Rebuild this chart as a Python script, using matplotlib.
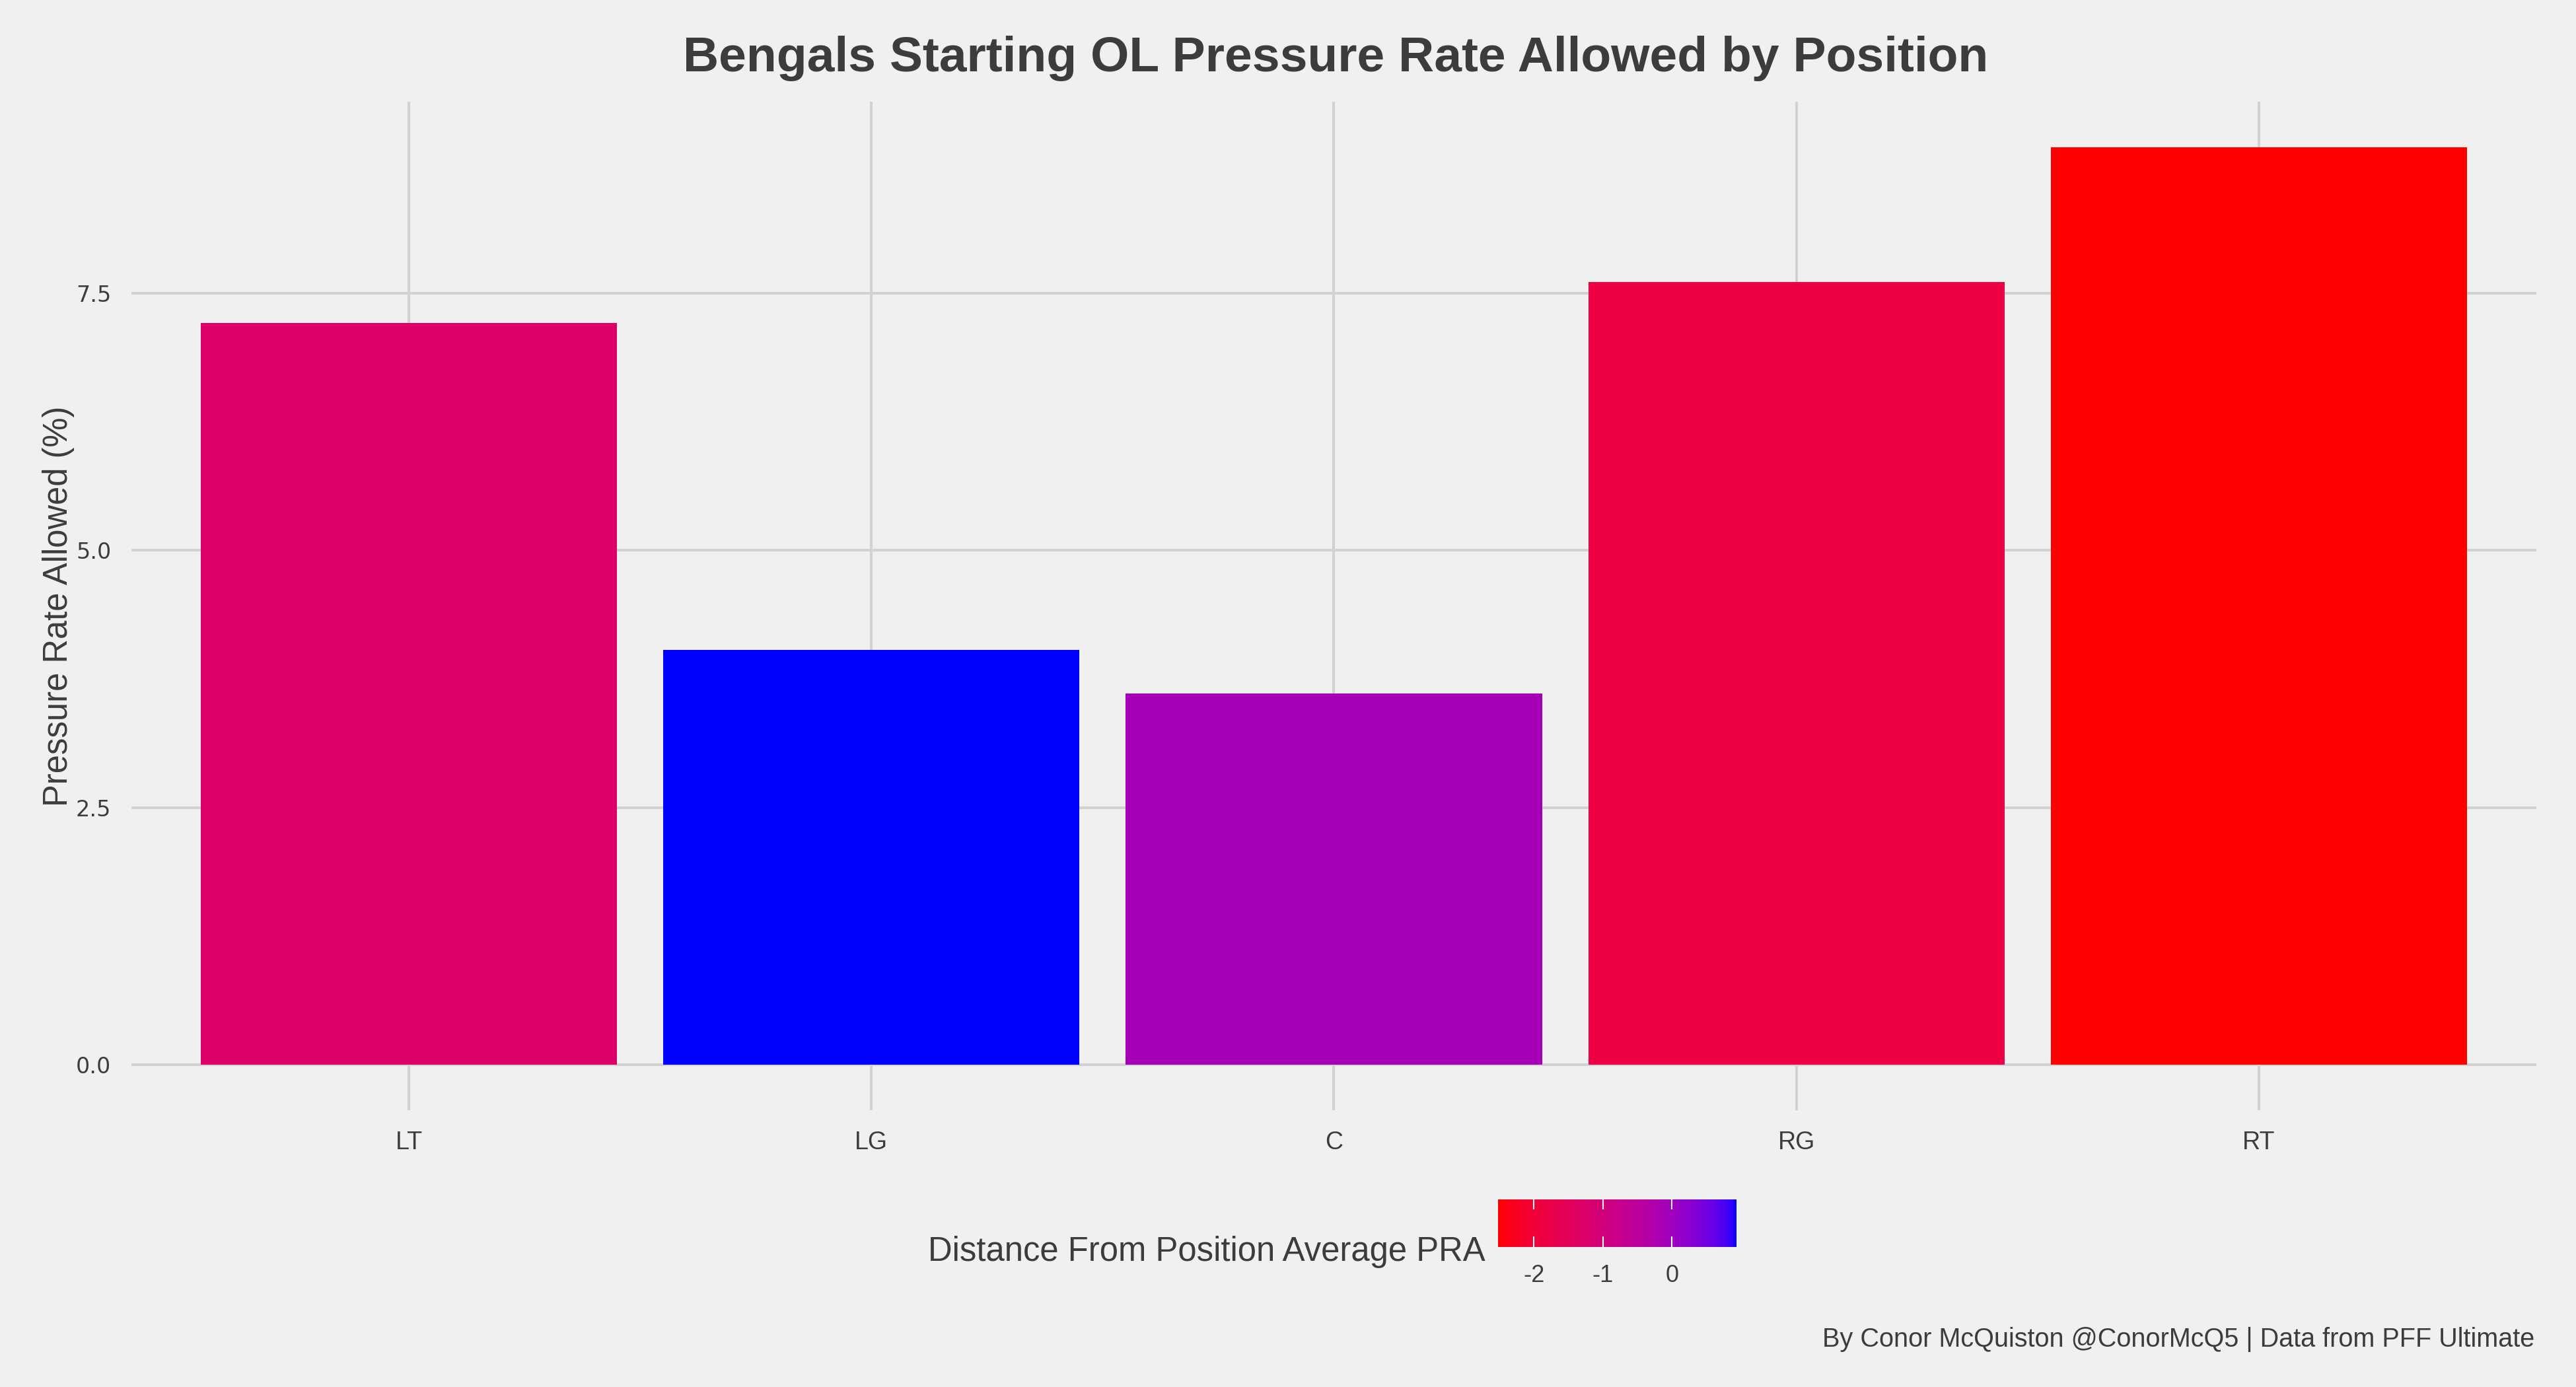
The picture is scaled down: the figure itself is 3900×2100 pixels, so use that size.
import numpy as np
import matplotlib
matplotlib.use("Agg")
import matplotlib.pyplot as plt
from matplotlib.colors import ListedColormap, Normalize
from matplotlib.cm import ScalarMappable

# data
positions = ["LT", "LG", "C", "RG", "RT"]
pressure_rate = [7.21, 4.03, 3.61, 7.61, 8.92]
distance_from_avg = [-1.28, 0.93, -0.10, -1.83, -2.52]
y_ticks = [0.0, 2.5, 5.0, 7.5]
cbar_ticks = [-2, -1, 0]

BG = "#F0F0F0"
GRID = "#D2D2D2"
TXT = "#3C3C3C"


# ggplot's red -> blue gradient is interpolated in Lab space
def srgb_to_lab(rgb):
    c = np.array(rgb, dtype=float)
    lin = np.where(c <= 0.04045, c / 12.92, ((c + 0.055) / 1.055) ** 2.4)
    m = np.array([[0.4124, 0.3576, 0.1805],
                  [0.2126, 0.7152, 0.0722],
                  [0.0193, 0.1192, 0.9505]])
    xyz = m @ lin / np.array([0.95047, 1.0, 1.08883])
    f = np.where(xyz > 0.008856, np.cbrt(xyz), 7.787 * xyz + 16 / 116)
    return np.array([116 * f[1] - 16, 500 * (f[0] - f[1]), 200 * (f[1] - f[2])])


def lab_to_srgb(lab):
    L, a, b = lab
    fy = (L + 16) / 116
    fx = fy + a / 500
    fz = fy - b / 200
    f = np.array([fx, fy, fz])
    xyz = np.where(f ** 3 > 0.008856, f ** 3, (f - 16 / 116) / 7.787)
    xyz = xyz * np.array([0.95047, 1.0, 1.08883])
    m = np.array([[3.2406, -1.5372, -0.4986],
                  [-0.9689, 1.8758, 0.0415],
                  [0.0557, -0.2040, 1.0570]])
    lin = np.clip(m @ xyz, 0, 1)
    c = np.where(lin <= 0.0031308, 12.92 * lin, 1.055 * lin ** (1 / 2.4) - 0.055)
    return np.clip(c, 0, 1)


lab_lo = srgb_to_lab([1, 0, 0])
lab_hi = srgb_to_lab([0, 0, 1])
cmap = ListedColormap([lab_to_srgb(lab_lo + t * (lab_hi - lab_lo)) for t in np.linspace(0, 1, 256)])
norm = Normalize(vmin=min(distance_from_avg), vmax=max(distance_from_avg))

plt.rcParams["font.family"] = ["Liberation Sans", "DejaVu Sans"]
plt.rcParams["axes.unicode_minus"] = False

fig = plt.figure(figsize=(39, 21), dpi=100, facecolor=BG)
ax = fig.add_axes([0.051, 0.1995, 0.9336, 0.7272])
ax.set_facecolor(BG)

x = np.arange(len(positions))
ax.bar(x, pressure_rate, width=0.9, color=cmap(norm(distance_from_avg)), zorder=3)

ax.set_xlim(-0.6, len(positions) - 0.4)
ax.set_ylim(-0.05 * max(pressure_rate), 1.05 * max(pressure_rate))
ax.set_xticks(x)
ax.set_xticklabels(positions)
ax.set_yticks(y_ticks)
ax.set_yticklabels([f"{v:.1f}" for v in y_ticks])
ax.grid(True, color=GRID, linewidth=2.9, zorder=0)
for s in ax.spines.values():
    s.set_visible(False)
ax.tick_params(axis="x", length=0, labelsize=27, colors=TXT, pad=22)
ax.tick_params(axis="y", length=0, colors=TXT, pad=22)
for lab in ax.get_yticklabels():
    lab.set_family("DejaVu Sans")
    lab.set_fontsize(24)
ax.set_ylabel("Pressure Rate Allowed (%)", fontsize=36.5, color=TXT)
ax.yaxis.set_label_coords(-0.0236, 0.5)

fig.text(0.5185, 0.958, "Bengals Starting OL Pressure Rate Allowed by Position",
         ha="center", va="center", fontsize=54, fontweight="bold", color=TXT)

# gradient legend
cax = fig.add_axes([0.5815, 0.101, 0.0925, 0.0343])
cb = fig.colorbar(ScalarMappable(norm=norm, cmap=cmap), cax=cax, orientation="horizontal")
cb.outline.set_visible(False)
cb.set_ticks(cbar_ticks)
cax.tick_params(length=0, labelsize=26, colors=TXT, pad=19)
for t in cbar_ticks:
    cax.axvline(t, ymin=0, ymax=0.2, color="white", linewidth=1.5)
    cax.axvline(t, ymin=0.8, ymax=1, color="white", linewidth=1.5)
fig.text(0.5765, 0.0975, "Distance From Position Average PRA",
         ha="right", va="center", fontsize=36.6, color=TXT)

fig.text(0.984, 0.0345, "By Conor McQuiston @ConorMcQ5 | Data from PFF Ultimate",
         ha="right", va="center", fontsize=28.5, color=TXT)

fig.savefig("out.png", dpi=100, facecolor=BG)
